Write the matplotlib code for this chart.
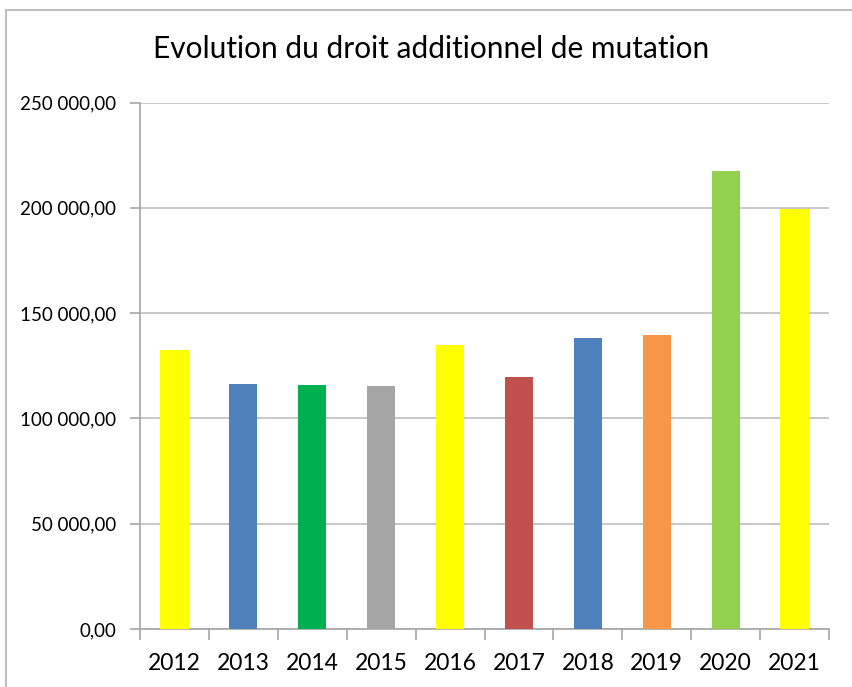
import matplotlib
matplotlib.use("Agg")
import matplotlib.pyplot as plt
from matplotlib.lines import Line2D
from matplotlib.ticker import FuncFormatter, FixedLocator

# data
years = ["2012", "2013", "2014", "2015", "2016", "2017", "2018", "2019", "2020", "2021"]
values = [132600, 116400, 116000, 115500, 135000, 119800, 138300, 139700, 217700, 199300]
colors = ["#FFFF00", "#4F81BD", "#00B050", "#A5A5A5", "#FFFF00",
          "#C0504D", "#4F81BD", "#F79646", "#92D050", "#FFFF00"]
yticks = [0, 50000, 100000, 150000, 200000, 250000]

plt.rcParams['font.family'] = ['Lato', 'DejaVu Sans']

fig = plt.figure(figsize=(8.52, 6.87), dpi=100)
ax = fig.add_axes([140/852, 1-629/687, 689/852, 526.5/687])

x = range(len(years))
ax.bar(x, values, width=0.41, color=colors, zorder=3)

ax.set_xlim(-0.5, len(years) - 0.5)
ax.set_ylim(0, 250000)
ax.set_yticks(yticks)

def fr(v, pos):
    s = f"{v:,.2f}".replace(",", " ").replace(".", ",")
    return s
ax.yaxis.set_major_formatter(FuncFormatter(fr))

ax.set_xticks(list(x))
ax.set_xticklabels(years, fontsize=16.5)
ax.tick_params(axis='x', which='major', length=0, pad=17)
ax.xaxis.set_minor_locator(FixedLocator([i - 0.5 for i in range(len(years) + 1)]))
ax.tick_params(axis='x', which='minor', length=8, color='#A6A6A6', width=1.2)
ax.tick_params(axis='y', length=7, color='#A6A6A6', width=1.2, labelsize=13.5, pad=10)

ax.grid(axis='y', color='#BFBFBF', linewidth=1.2, zorder=0)
for s in ['top', 'right']:
    ax.spines[s].set_visible(False)
for s in ['left', 'bottom']:
    ax.spines[s].set_color('#A6A6A6')
    ax.spines[s].set_linewidth(1.2)

fig.text(431/852, 1-49/687, "Evolution du droit additionnel de mutation",
         ha='center', va='center', fontsize=21.5)

# outer frame of the chart
fig.add_artist(Line2D([5.5/852, 5.5/852], [0, 1-10/687], transform=fig.transFigure,
                      color='#BFBFBF', linewidth=1.5))
fig.add_artist(Line2D([5.5/852, 1], [1-10/687, 1-10/687], transform=fig.transFigure,
                      color='#BFBFBF', linewidth=1.5))

fig.savefig("out.png", dpi=100)
